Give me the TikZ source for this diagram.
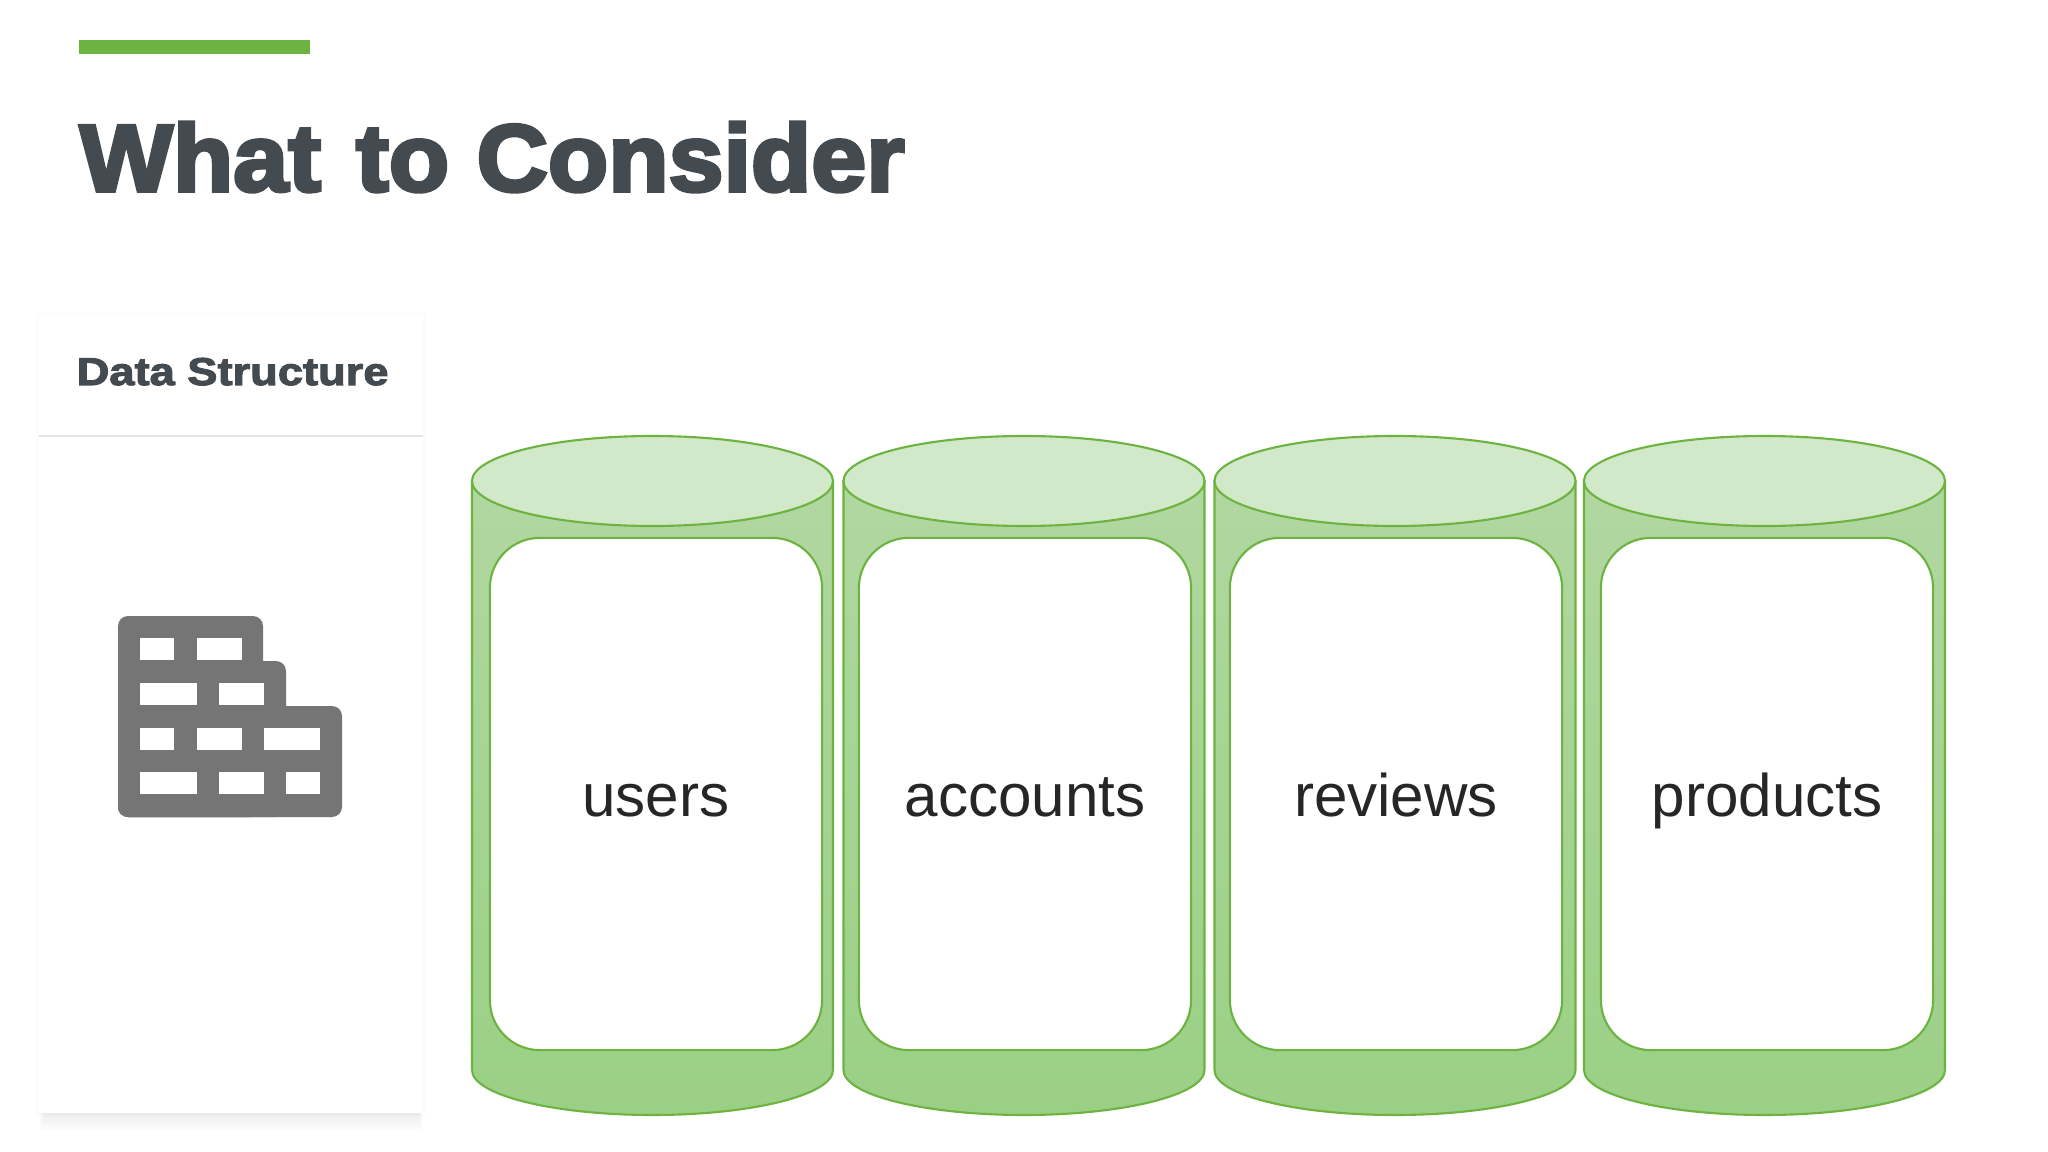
\documentclass[tikz,border=0pt]{standalone}
\usepackage{fontspec}
\setmainfont{Liberation Sans}
\newfontfamily\headfont[FakeBold=3.8,FakeStretch=1.04]{Liberation Sans Bold}
\newfontfamily\subfont[FakeBold=2.8,FakeStretch=1.17]{Liberation Sans Bold}
\usetikzlibrary{calc}
\definecolor{leaf}{HTML}{6CB33F}
\definecolor{slate}{HTML}{434A50}
\definecolor{brick}{HTML}{757575}
\definecolor{cyltop}{HTML}{B1D7A1}
\definecolor{cylbottom}{HTML}{9AD085}
\definecolor{cyllidfill}{HTML}{D1E8C9}
\tikzset{
    cylbody/.style={draw=leaf, line width=0.6pt, top color=cyltop, bottom color=cylbottom, shading angle=0},
    cyllid/.style={draw=leaf, line width=0.6pt, fill=cyllidfill},
    slot/.style={draw=leaf, line width=0.6pt, fill=white, rounded corners=0.5cm, inner sep=0pt, font=\fontsize{17.1}{20}\selectfont, text=black!85, text height=0.5cm, text depth=0.06cm},
    gap/.style={fill=white}
}
\begin{document}
\begin{tikzpicture}[x=0.01cm, y=-0.01cm]
    \useasboundingbox (0,0) rectangle (2048,1152);
    \fill[white] (0,0) rectangle (2048,1152);
    \fill[leaf] (79,40) rectangle (310,54);
    \node[anchor=base west, inner sep=0pt, text=slate, font=\headfont\fontsize{27}{30}\selectfont] (title) at (79,191) {What\hspace{0.08em} to Consider};

    % panel with soft shadow
    \fill[black, opacity=0.01] (36,312) rectangle (426,1116);
    \foreach \i in {1,...,9} {
        \fill[black, opacity=0.009] ({44-\i/2},1100) rectangle ({418+\i/2},{1113+2*\i});
    }
    \fill[white] (39,315) rectangle (423,1113);
    \draw[black!10, line width=0.5pt] (39,436) -- (423,436);
    \node[anchor=base west, inner sep=0pt, text=slate, font=\subfont\fontsize{11}{13}\selectfont] (head) at (76,385) {Data Structure};

    % bricks
    \foreach \r/\t in {263/616, 286/661, 342/706} {
        \fill[brick, rounded corners=0.1cm] (118,\t) rectangle (\r,817);
    }
    \foreach \a/\b/\c in {140/174/638, 197/242/638, 140/197/683, 219/264/683, 140/174/728, 197/242/728, 264/320/728, 140/197/772, 219/264/772, 286/320/772} {
        \fill[gap] (\a,\c) rectangle (\b,\c+22);
    }

    % cylinders
    \foreach \x/\ix/\name in {472/490/users, 843.5/859/accounts, 1214.5/1230/reviews, 1584/1601/products} {
        \draw[cylbody] (\x,481) -- (\x,1070) arc[start angle=180, end angle=360, x radius=180.5, y radius=-45] -- (\x+361,481) -- cycle;
        \draw[cyllid] (\x+180.5,481) ellipse[x radius=180.5, y radius=45];
        \node[slot, minimum width=3.32cm, minimum height=5.12cm] (\name) at (\ix+166,794) {\name};
    }
\end{tikzpicture}
\end{document}
